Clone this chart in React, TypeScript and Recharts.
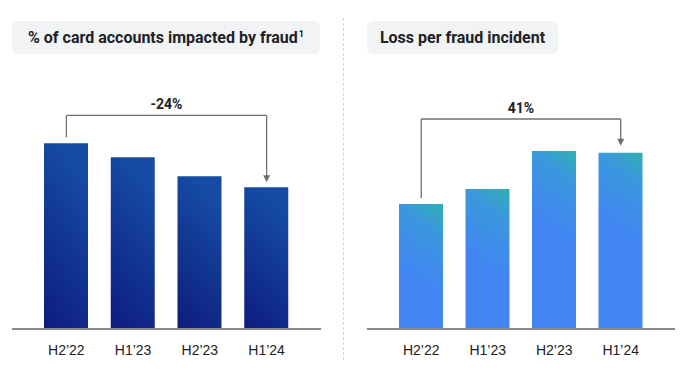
import { BarChart, Bar, XAxis, YAxis, ReferenceLine } from "recharts";

const CATEGORIES = ["H2’22", "H1’23", "H2’23", "H1’24"];
// relative index, H2'22 = 100
const CARD_ACCOUNTS_IMPACTED = [100, 92.5, 82.3, 76.3];
const LOSS_PER_INCIDENT = [100, 112, 142.4, 141];
const CHANGE_LABELS = ["-24%", "41%"];

const accountsData = CATEGORIES.map((c, i) => ({ period: c, value: CARD_ACCOUNTS_IMPACTED[i] }));
const lossData = CATEGORIES.map((c, i) => ({ period: c, value: LOSS_PER_INCIDENT[i] }));

const PLOT_H = 260;
const BRACKET_COLOR = "#6f6f6f";

const ArrowLine = (p: any) => (
  <g>
    <line x1={p.x1} y1={p.y1} x2={p.x2} y2={p.y2 - 5} stroke={BRACKET_COLOR} strokeWidth={1.3} />
    <polygon
      points={`${p.x2 - 3.5},${p.y2 - 7} ${p.x2 + 3.5},${p.y2 - 7} ${p.x2},${p.y2}`}
      fill={BRACKET_COLOR}
    />
  </g>
);

// teal corner fading into blue, diagonal in screen space
const TealBar = (p: any) => {
  const id = `tealGrad-${p.index}`;
  return (
    <g>
      <defs>
        <linearGradient id={id} gradientUnits="userSpaceOnUse" x1={p.x + p.width} y1={p.y} x2={p.x} y2={p.y + 60}>
          <stop offset="0%" stopColor="#2db1b3" />
          <stop offset="35%" stopColor="#3a98dc" />
          <stop offset="100%" stopColor="#4286f2" />
        </linearGradient>
      </defs>
      <rect x={p.x} y={p.y} width={p.width} height={p.height} fill={`url(#${id})`} />
    </g>
  );
};

function bracket(data: any[], yMax: number, top: number, label: string, startGap: number, endGap: number) {
  const u = yMax / PLOT_H; // data units per pixel
  const first = data[0];
  const last = data[data.length - 1];
  const line = { stroke: BRACKET_COLOR, strokeWidth: 1.3, ifOverflow: "visible" as const };
  return [
    <ReferenceLine
      key="l"
      {...line}
      segment={[{ x: first.period, y: top }, { x: first.period, y: first.value + startGap * u }]}
    />,
    <ReferenceLine
      key="t"
      {...line}
      segment={[{ x: first.period, y: top }, { x: last.period, y: top }]}
      label={{ value: label, position: "top", offset: 6, fill: "#202124", fontSize: 14, fontWeight: 700, fontFamily: "Roboto, sans-serif" }}
    />,
    <ReferenceLine
      key="r"
      {...line}
      segment={[{ x: last.period, y: top }, { x: last.period, y: last.value + endGap * u }]}
      shape={ArrowLine}
    />,
  ];
}

function Panel({ data, yMax, top, label, shape, margin, startGap, endGap }: any) {
  return (
    <BarChart width={344} height={380} data={data} margin={{ top: 69, bottom: 21, ...margin }}>
      <defs>
        <linearGradient id="navyGrad" x1="0.3" y1="0" x2="0" y2="1">
          <stop offset="0%" stopColor="#154ba3" />
          <stop offset="100%" stopColor="#0e1c7e" />
        </linearGradient>
      </defs>
      <XAxis
        dataKey="period"
        padding={{ left: 21, right: 21 }}
        tickLine={false}
        axisLine={{ stroke: "#8a8a8a", strokeWidth: 2 }}
        tickMargin={10}
        height={30}
        tick={{ fill: "#222", fontSize: 14, fontFamily: "'Liberation Sans', Arial, sans-serif" }}
      />
      <YAxis hide domain={[0, yMax]} />
      <Bar dataKey="value" barSize={44} fill="url(#navyGrad)" shape={shape} isAnimationActive={false} />
      {bracket(data, yMax, top, label, startGap, endGap)}
    </BarChart>
  );
}

const headerStyle: any = {
  position: "absolute",
  top: 21,
  height: 33,
  background: "#f1f3f4",
  borderRadius: 6,
  display: "flex",
  alignItems: "center",
  justifyContent: "center",
  fontFamily: "Roboto, sans-serif",
  fontWeight: 700,
  fontSize: 16,
  color: "#202124",
};

export default function App() {
  return (
    <div style={{ position: "absolute", left: 0, top: 0, width: 688, height: 380, background: "#fff", overflow: "hidden" }}>
      <div style={{ ...headerStyle, left: 12, width: 308 }}>
        % of card accounts impacted by fraud<sup style={{ fontSize: 9, marginLeft: 1, alignSelf: "flex-start", marginTop: 8 }}>1</sup>
      </div>
      <div style={{ ...headerStyle, left: 367, width: 191 }}>Loss per fraud incident</div>
      <div
        style={{ position: "absolute", left: 343, top: 18, height: 342, borderLeft: "1px dashed #d6d6d6" }}
      />
      <div style={{ position: "absolute", left: 0, top: 0 }}>
        <Panel
          data={accountsData}
          yMax={140}
          top={115}
          label={CHANGE_LABELS[0]}
          margin={{ left: 12, right: 23 }}
          startGap={6}
          endGap={5}
        />
      </div>
      <div style={{ position: "absolute", left: 344, top: 0 }}>
        <Panel
          data={lossData}
          yMax={208}
          top={168}
          label={CHANGE_LABELS[1]}
          shape={TealBar}
          margin={{ left: 23, right: 13 }}
          startGap={6}
          endGap={7}
        />
      </div>
    </div>
  );
}
